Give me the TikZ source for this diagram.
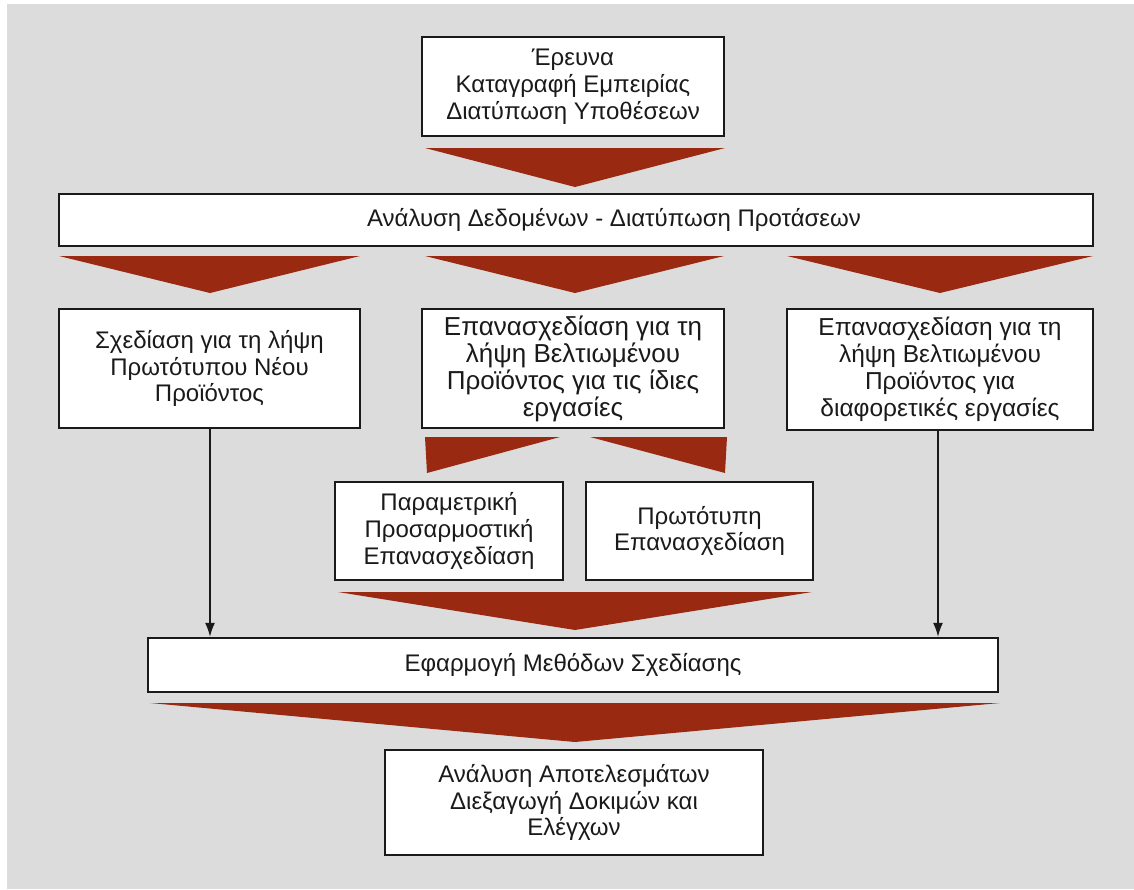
\documentclass[tikz,border=0pt]{standalone}
\usepackage{fontspec}
\setmainfont{Liberation Sans}
\usetikzlibrary{arrows.meta,calc}
\definecolor{panel}{HTML}{DCDCDC}
\definecolor{chevron}{HTML}{9A2912}
\definecolor{ink}{HTML}{1A1A1A}
\begin{document}
\begin{tikzpicture}[x=1pt,y=-1pt,
  box/.style={draw=ink,line width=2.4pt,fill=white,text=ink,align=center,
    inner sep=0pt,font=\fontsize{24}{26.8}\selectfont},
  label/.style={text=ink,align=center,inner sep=0pt,font=\fontsize{24}{26.8}\selectfont},
  chev/.style={fill=chevron,draw=none},
  link/.style={draw=ink,line width=1.5pt,-{Latex[length=14pt,width=10pt]}}]
\useasboundingbox (0,0) rectangle (1134,889);
\fill[panel] (7,4) rectangle (1134,889);

% boxes
\node[box,minimum width=302pt,minimum height=99pt] (research) at (573,86.5)
  {Έρευνα\\Καταγραφή Εμπειρίας\\Διατύπωση Υποθέσεων};
\node[box,minimum width=1034pt,minimum height=52pt] (analysis) at (576,220) {};
\node[label] (analysistext) at ($(analysis.center)+(38,0)$)
  {Ανάλυση Δεδομένων - Διατύπωση Προτάσεων};
\node[box,minimum width=301pt,minimum height=119pt] (newprod) at (209.5,368.5)
  {Σχεδίαση για τη λήψη\\Πρωτότυπου Νέου\\Προϊόντος};
\node[box,minimum width=302pt,minimum height=119pt,
  font=\fontsize{26}{27}\selectfont] (same) at (573,368.5)
  {Επανασχεδίαση για τη\\λήψη Βελτιωμένου\\Προϊόντος για τις ίδιες\\εργασίες};
\node[box,minimum width=306pt,minimum height=121pt,
  font=\fontsize{24.5}{27}\selectfont] (diff) at (940,369.5)
  {Επανασχεδίαση για τη\\λήψη Βελτιωμένου\\Προϊόντος για\\διαφορετικές εργασίες};
\node[box,minimum width=228pt,minimum height=98pt] (param) at (449,531)
  {Παραμετρική\\Προσαρμοστική\\Επανασχεδίαση};
\node[box,minimum width=227pt,minimum height=98pt] (orig) at (699.5,531)
  {Πρωτότυπη\\Επανασχεδίαση};
\node[box,minimum width=850pt,minimum height=54pt] (apply) at (573,665)
  {Εφαρμογή Μεθόδων Σχεδίασης};
\node[box,minimum width=378pt,minimum height=105pt] (results) at (574,802.5)
  {Ανάλυση Αποτελεσμάτων\\Διεξαγωγή Δοκιμών και\\Ελέγχων};

% wide chevrons
\fill[chev] (425,148) -- (725,148) -- (575,187) -- cycle;
\fill[chev] (59,256) -- (360,256) -- (210,293) -- cycle;
\fill[chev] (425,256) -- (724,256) -- (575,293) -- cycle;
\fill[chev] (787,256) -- (1093,256) -- (940,293) -- cycle;
\fill[chev] (425,437) -- (560,437) -- (427,473) -- cycle;
\fill[chev] (590,437) -- (727,437) -- (725,473) -- cycle;
\fill[chev] (338,592) -- (812,592) -- (575,630) -- cycle;
\fill[chev] (150,703) -- (1000,703) -- (575,742) -- cycle;

% thin connectors
\draw[link] (newprod.south -| 210,0) -- (apply.north -| 210,0);
\draw[link] (diff.south -| 938,0) -- (apply.north -| 938,0);
\end{tikzpicture}
\end{document}
